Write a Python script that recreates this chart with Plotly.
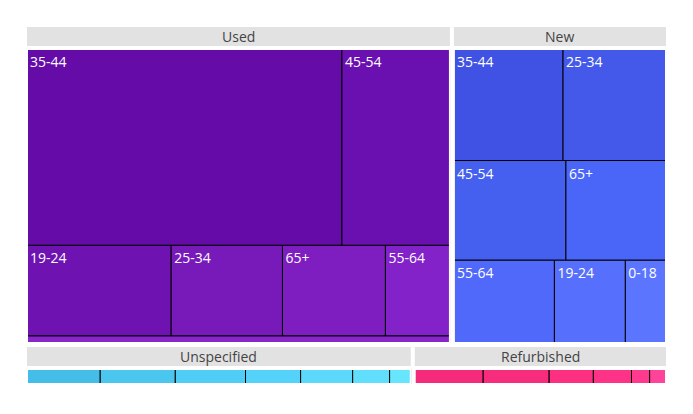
import plotly.graph_objects as go

# condition groups and how they are arranged (two rows of boxes)
conditions = ['Used', 'New', 'Unspecified', 'Refurbished']
grid = [['Used', 'New'], ['Unspecified', 'Refurbished']]

# age groups per condition, row by row as they sit inside each box
used_ages = [['35-44', '45-54'], ['19-24', '25-34', '65+', '55-64'], ['0-18']]
used_counts = [[2962, 1016], [626, 483, 447, 280], [141]]

new_ages = [['35-44', '25-34'], ['45-54', '65+'], ['55-64', '19-24', '0-18']]
new_counts = [[583, 550], [535, 478], [398, 281, 161]]

unspec_ages = [['35-44', '25-34', '45-54', '19-24', '55-64', '65+', '0-18']]
unspec_counts = [[121, 124, 116, 91, 86, 61, 35]]

refurb_ages = [['25-34', '35-44', '45-54', '19-24', '55-64', '65+']]
refurb_counts = [[113, 109, 73, 63, 30, 27]]

used_colors = [['#650ca8', '#6b10b0'], ['#6e13b2', '#781ab9', '#7e1ec0', '#8322c8'], ['#8826cc']]
new_colors = [['#3f52e3', '#4459ea'], ['#4560ee', '#4a66f8'], ['#5069fb', '#566ffc', '#5c75ff']]
unspec_colors = [['#44bde8', '#4ac6ef', '#50cdf6', '#55d2fa', '#5bd8fc', '#61defc', '#66e5fd']]
refurb_colors = [['#f52a7a', '#f72c7c', '#fc2f80', '#fe3286', '#ff3a8e', '#ff429a']]

ages = {'Used': used_ages, 'New': new_ages, 'Unspecified': unspec_ages, 'Refurbished': refurb_ages}
counts = {'Used': used_counts, 'New': new_counts, 'Unspecified': unspec_counts, 'Refurbished': refurb_counts}
colors = {'Used': used_colors, 'New': new_colors, 'Unspecified': unspec_colors, 'Refurbished': refurb_colors}

# page body adds 8px around the figure
W, H = 677, 398
margin = dict(l=19, r=19, t=19, b=22)
pw = W - margin['l'] - margin['r']
ph = H - margin['t'] - margin['b']
GAP, HEAD, HEAD_GAP = 4, 19, 3


def total(c):
    return sum(sum(r) for r in counts[c])


def px_x(v):
    return v / pw


def px_y(v):
    return 1 - v / ph


fig = go.Figure()
shapes = []
annotations = []

grand = sum(total(c) for c in conditions)
y = 0
for row in grid:
    rs = sum(total(c) for c in row)
    h = (ph - GAP * (len(grid) - 1)) * rs / grand
    x = 0
    for c in row:
        w = (pw - GAP * (len(row) - 1)) * total(c) / rs

        # header bar
        shapes.append(dict(type='rect', xref='paper', yref='paper',
                           x0=px_x(x), x1=px_x(x + w), y0=px_y(y + HEAD), y1=px_y(y),
                           fillcolor='#e2e2e2', line=dict(width=0), layer='below'))
        annotations.append(dict(xref='paper', yref='paper', x=px_x(x + w / 2), y=px_y(y + HEAD / 2),
                                text=c, showarrow=False, xanchor='center', yanchor='middle',
                                font=dict(family='Open Sans', size=14, color='#444')))
        # white frame hides the outer leaf borders
        shapes.append(dict(type='rect', xref='paper', yref='paper',
                           x0=px_x(x), x1=px_x(x + w), y0=px_y(y + h), y1=px_y(y + HEAD + HEAD_GAP),
                           line=dict(color='white', width=2), layer='above'))

        ids, parents, labels, vals, cols, lw = [c], [''], [''], [0], ['rgba(0,0,0,0)'], [0]
        for i, (r_ages, r_vals, r_cols) in enumerate(zip(ages[c], counts[c], colors[c])):
            rid = f'{c}/row{i}'
            ids.append(rid)
            parents.append(c)
            labels.append('')
            vals.append(0)
            cols.append('rgba(0,0,0,0)')
            lw.append(0)
            for a, v, col in zip(r_ages, r_vals, r_cols):
                ids.append(f'{c}/{a}')
                parents.append(rid)
                labels.append(a)
                vals.append(v)
                cols.append(col)
                lw.append(1)

        fig.add_trace(go.Treemap(
            ids=ids, parents=parents, labels=labels, values=vals,
            branchvalues='remainder', sort=False,
            tiling=dict(packing='dice-slice', pad=0),
            marker=dict(colors=cols, line=dict(color='black', width=lw),
                        pad=dict(t=0, l=0, r=0, b=0)),
            pathbar=dict(visible=False),
            textinfo='label', textposition='top left',
            textfont=dict(family='Open Sans', size=14, color='white'),
            hoverinfo='label+value',
            domain=dict(x=[px_x(x), px_x(x + w)], y=[px_y(y + h), px_y(y + HEAD + HEAD_GAP)]),
        ))
        x += w + GAP
    y += h + GAP

fig.update_layout(
    width=W, height=H,
    margin=margin,
    paper_bgcolor='white',
    shapes=shapes,
    annotations=annotations,
    uniformtext=dict(minsize=14, mode='hide'),
    font=dict(family='Open Sans'),
)

fig.write_html('out.html')
